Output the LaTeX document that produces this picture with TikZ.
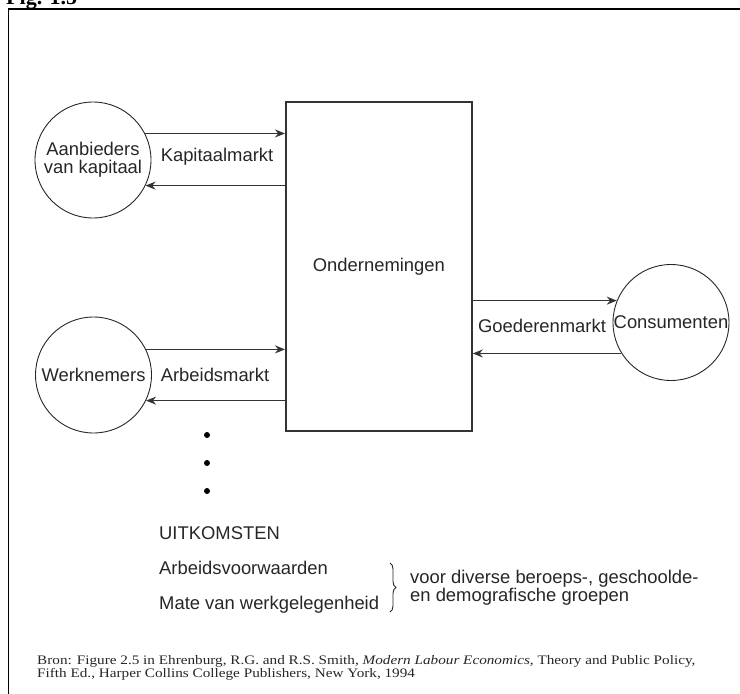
\documentclass[tikz,border=0pt]{standalone}
\usepackage{fontspec}
\setmainfont{Liberation Serif}
\newfontfamily\arial{Liberation Sans}
\newfontfamily\srcfont[FakeStretch=1.17]{Liberation Serif}
\usetikzlibrary{arrows.meta,decorations.pathreplacing}
\tikzset{
  lbl/.style={font=\arial\fontsize{18.4}{18}\selectfont, inner sep=0pt, text=black!85},
  circ/.style={circle, draw=black!85, line width=0.9pt, minimum size=116pt, inner sep=0pt, align=center, lbl},
  firm/.style={rectangle, draw=black!80, line width=1.8pt, minimum width=186pt, minimum height=329pt, inner sep=0pt, lbl},
  flow/.style={draw=black!80, line width=1.6pt, -{Stealth[length=10pt,width=8pt]}},
  dotmark/.style={circle, fill=black, inner sep=0pt, minimum size=6pt},
}
\begin{document}
\begin{tikzpicture}[x=1pt,y=-1pt]
\useasboundingbox (0,0) rectangle (740,694);
% frame
\node[anchor=base west, font=\bfseries\fontsize{22}{22}\selectfont, inner sep=0pt] (fig) at (6,4) {Fig. 1.5};
\draw[line width=1.6pt] (8.5,694) -- (8.5,9) -- (740,9);
% nodes
\node[circ] (kap) at (93,160) {Aanbieders\\van kapitaal};
\node[circ] (wn) at (93.5,375) {Werknemers};
\node[circ] (con) at (671,322.5) {Consumenten};
\node[firm, anchor=north west] (ond) at (285,101) {Ondernemingen};
% connectors
\draw[flow] (kap.27.7) -- (kap.27.7 -| ond.west);
\draw[flow] (kap.334.5 -| ond.west) -- (kap.334.5);
\draw[flow] (wn.26.6) -- (wn.26.6 -| ond.west);
\draw[flow] (wn.334.5 -| ond.west) -- (wn.334.5);
\draw[flow] (con.158.8 -| ond.east) -- (con.158.8);
\draw[flow] (con.212.9) -- (con.212.9 -| ond.east);
% market labels
\node[lbl] (km) at (217,157) {Kapitaalmarkt};
\node[lbl] (am) at (215,375) {Arbeidsmarkt};
\node[lbl] (gm) at (542,326) {Goederenmarkt};
% dots
\node[dotmark] (d1) at (207,435) {};
\node[dotmark] (d2) at (207,463) {};
\node[dotmark] (d3) at (207,491) {};
% outcomes
\node[lbl, anchor=west] (uit) at (159,533) {UITKOMSTEN};
\node[lbl, anchor=west] (av) at (159,568) {Arbeidsvoorwaarden};
\node[lbl, anchor=west] (mw) at (159,605) {Mate van werkgelegenheid};
\draw[black!85, line width=0.9pt, decorate, decoration={brace, amplitude=6pt}] (390,563) -- (390,612);
\node[lbl, anchor=west, align=left, font=\arial\fontsize{18.4}{17}\selectfont] (grp) at (410,588) {voor diverse beroeps-, geschoolde-\\en demografische groepen};
% source
\node[anchor=north west, align=left, inner sep=0pt, font=\srcfont\fontsize{13}{10.5}\selectfont, text=black!85] (src) at (37,655) {Bron: Figure 2.5 in Ehrenburg, R.G. and R.S. Smith, \textit{Modern Labour Economics}, Theory and Public Policy,\\Fifth Ed., Harper Collins College Publishers, New York, 1994};
\end{tikzpicture}
\end{document}
